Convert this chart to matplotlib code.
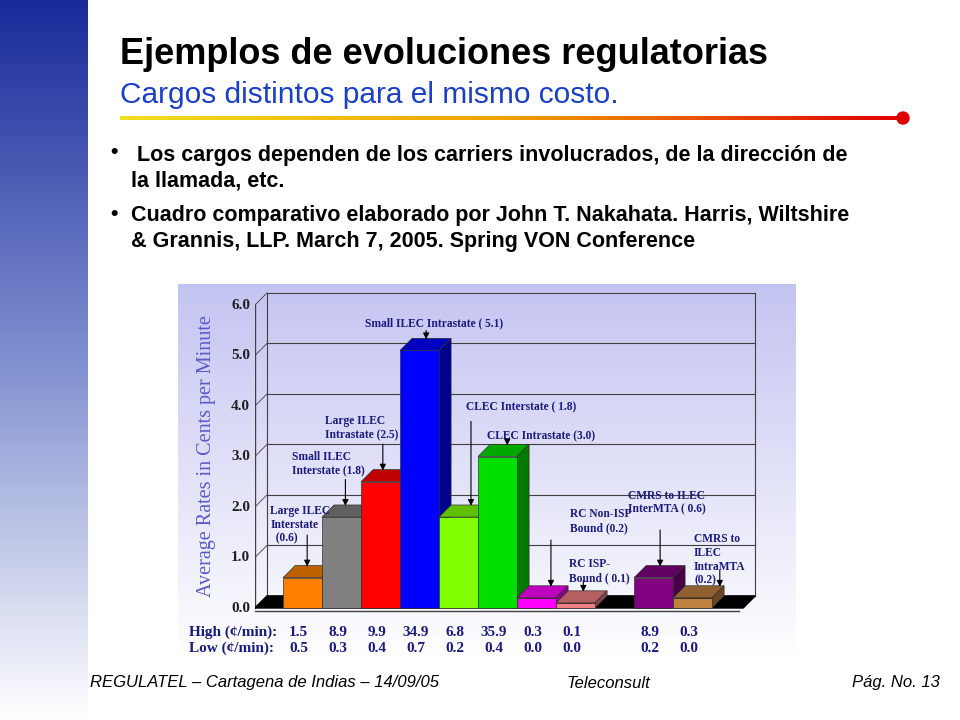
import numpy as np
import matplotlib
matplotlib.use("Agg")
import matplotlib.pyplot as plt
from matplotlib.patches import Polygon, Circle
from matplotlib.colors import to_rgb, LinearSegmentedColormap

# ---------------------------------------------------------------------------
# Data
# ---------------------------------------------------------------------------
positions = [0, 1, 2, 3, 4, 5, 6, 7, 9, 10]
values = [0.6, 1.8, 2.5, 5.1, 1.8, 3.0, 0.2, 0.1, 0.6, 0.2]
bar_colors = ["#ff8000", "#808080", "#ff0000", "#0000ff", "#80ff00",
              "#00e000", "#ff00ff", "#f08080", "#800080", "#c08040"]
high = ["1.5", "8.9", "9.9", "34.9", "6.8", "35.9", "0.3", "0.1", "8.9", "0.3"]
low = ["0.5", "0.3", "0.4", "0.7", "0.2", "0.4", "0.0", "0.0", "0.2", "0.0"]
yticks = [0, 1, 2, 3, 4, 5, 6]

# (label, text x, text y, ha, arrow x, arrow start y, bar index)
labels = [
    ("Large ILEC\nInterstate\n  (0.6)", -0.33, 2.04, "left", 0.62, 1.5, 0),
    ("Small ILEC\nInterstate (1.8)", 0.23, 3.1, "left", 1.6, 2.6, 1),
    ("Large ILEC\nIntrastate (2.5)", 1.08, 3.82, "left", 2.56, 3.3, 2),
    ("Small ILEC Intrastate ( 5.1)", 3.87, 5.75, "center", 3.67, 5.55, 3),
    ("CLEC Interstate ( 1.8)", 4.7, 4.1, "left", 4.82, 3.75, 4),
    ("CLEC Intrastate (3.0)", 5.23, 3.52, "left", 5.75, 3.3, 5),
    ("RC Non-ISP\nBound (0.2)", 7.36, 1.98, "left", 6.87, 1.4, 6),
    ("RC ISP-\nBound ( 0.1)", 7.33, 0.99, "left", 7.7, 0.6, 7),
    ("CMRS to ILEC\nInterMTA ( 0.6)", 8.85, 2.34, "left", 9.67, 1.6, 8),
    ("CMRS to\nILEC\nIntraMTA\n(0.2)", 10.54, 1.48, "left", 11.2, 0.8, 9),
]

DX, DY = 0.31, 0.24
TXT = "#1a1a80"
SERIF = "Liberation Serif"

fig = plt.figure(figsize=(9.6, 7.2), dpi=100)

# ---- slide background ------------------------------------------------------
bg = fig.add_axes([0, 0, 1, 1])
bg.set_xlim(0, 960)
bg.set_ylim(720, 0)
bg.axis("off")
band = LinearSegmentedColormap.from_list("b", ["#1a2a9a", "#8090d0", "#ffffff"])
bg.imshow(np.linspace(0, 1, 256)[:, None], cmap=band, aspect="auto",
          extent=(0, 88, 720, 0), zorder=0)
chartbg = LinearSegmentedColormap.from_list("c", ["#c4c4f2", "#ffffff"])
bg.imshow(np.linspace(0, 1, 256)[:, None], cmap=chartbg, aspect="auto",
          extent=(178, 796, 660, 284), zorder=0)

bg.text(120, 54, "Ejemplos de evoluciones regulatorias", fontsize=26,
        fontweight="bold", va="center", family="Liberation Sans")
bg.text(120, 95, "Cargos distintos para el mismo costo.", fontsize=21.5,
        color="#1a3fc8", va="center", family="Liberation Sans")
line_cmap = LinearSegmentedColormap.from_list("l", ["#f0e020", "#f0a000", "#e00000"])
bg.imshow(np.linspace(0, 1, 256)[None, :], cmap=line_cmap, aspect="auto",
          extent=(120, 900, 120, 116), zorder=1)
bg.add_patch(Circle((903, 118), 6, color="#e00000", zorder=2))

bfont = dict(fontsize=15.5, fontweight="bold", family="Liberation Sans")
bg.text(110, 153, "•", va="center", **bfont)
bg.text(137, 155, "Los cargos dependen de los carriers involucrados, de la dirección de",
        va="center", **bfont)
bg.text(131, 181, "la llamada, etc.", va="center", **bfont)
bg.text(110, 215, "•", va="center", **bfont)
bg.text(131, 216, "Cuadro comparativo elaborado por John T. Nakahata. Harris, Wiltshire",
        va="center", **bfont)
bg.text(131, 242, "& Grannis, LLP. March 7, 2005. Spring VON Conference", va="center", **bfont)

ffont = dict(fontsize=12, style="italic", va="center", family="Liberation Sans")
bg.text(90, 683, "REGULATEL – Cartagena de Indias – 14/09/05", **ffont)
bg.text(608, 683, "Teleconsult", ha="center", **ffont)
bg.text(940, 683, "Pág. No. 13", ha="right", **ffont)

# ---- chart -----------------------------------------------------------------
px_x0, px_unit = 283, 39
px_y0, px_yunit = 608, 50.5
xlim = (-0.72, 12.2)
ylim = (-0.4, 6.4)
left = (px_x0 + xlim[0] * px_unit) / 960
width = (xlim[1] - xlim[0]) * px_unit / 960
bottom = 1 - (px_y0 - ylim[0] * px_yunit) / 720
height = (ylim[1] - ylim[0]) * px_yunit / 720
ax = fig.add_axes([left, bottom, width, height])
ax.set_xlim(*xlim)
ax.set_ylim(*ylim)
ax.axis("off")

x_ax = -0.72
x_end = 11.8
# back wall
for t in yticks:
    ax.plot([x_ax + DX, x_end + DX], [t + DY, t + DY], color="#404040", lw=0.8, zorder=1)
    ax.plot([x_ax, x_ax + DX], [t, t + DY], color="#404040", lw=0.6, zorder=1)
    ax.text(x_ax - 0.12, t, f"{t:.1f}", ha="right", va="center", fontsize=11,
            fontweight="bold", family=SERIF, color="#202020")
ax.plot([x_ax + DX] * 2, [DY, 6 + DY], color="#404040", lw=0.8, zorder=1)
ax.plot([x_end + DX] * 2, [DY, 6 + DY], color="#404040", lw=0.8, zorder=1)
ax.plot([x_ax, x_ax], [0, 6], color="#404040", lw=1, zorder=1)
ax.plot([x_ax, x_end - 0.1], [-0.05, -0.05], color="#404040", lw=1, zorder=1)
# floor
ax.add_patch(Polygon([[x_ax, 0], [x_end, 0], [x_end + DX, DY], [x_ax + DX, DY]],
                     closed=True, color="black", zorder=2))

ax.text(-1.95, 3.0, "Average Rates in Cents per Minute", rotation=90, ha="center",
        va="center", fontsize=14.5, family=SERIF, color="#5a5ac8")


def shade(c, f):
    return tuple(np.array(to_rgb(c)) * f)


for i, (p, v, c) in enumerate(zip(positions, values, bar_colors)):
    z = 3 + i
    ax.bar(p, v, width=1, align="edge", color=c, edgecolor="#303030", lw=0.5, zorder=z + 0.2)
    ax.add_patch(Polygon([[p, v], [p + 1, v], [p + 1 + DX, v + DY], [p + DX, v + DY]],
                         closed=True, fc=shade(c, 0.75), ec="#303030", lw=0.5, zorder=z))
    ax.add_patch(Polygon([[p + 1, 0], [p + 1 + DX, DY], [p + 1 + DX, v + DY], [p + 1, v]],
                         closed=True, fc=shade(c, 0.55), ec="#303030", lw=0.5, zorder=z))

for text, tx, ty, ha, axx, ay, bi in labels:
    ax.text(tx, ty, text, ha=ha, va="top", fontsize=8.3, family=SERIF,
            fontweight="bold", color=TXT, zorder=30, linespacing=1.2)
    top = values[bi] + DY * 0.7
    ax.annotate("", xy=(axx, top), xytext=(axx, ay),
                arrowprops=dict(arrowstyle="-|>", color="black", lw=0.8,
                                mutation_scale=9), zorder=30)

# table
row_y = [(608 - 632) / px_yunit, (608 - 648) / px_yunit]
tfont = dict(fontsize=11, fontweight="bold", family=SERIF, color=TXT, va="center")
ax.text(-2.4, row_y[0], "High (¢/min):", **tfont)
ax.text(-2.4, row_y[1], "Low (¢/min):", **tfont)
for p, h, l in zip(positions, high, low):
    ax.text(p + 0.4, row_y[0], h, ha="center", clip_on=False, **tfont)
    ax.text(p + 0.4, row_y[1], l, ha="center", clip_on=False, **tfont)

fig.savefig("out.png", dpi=100)
